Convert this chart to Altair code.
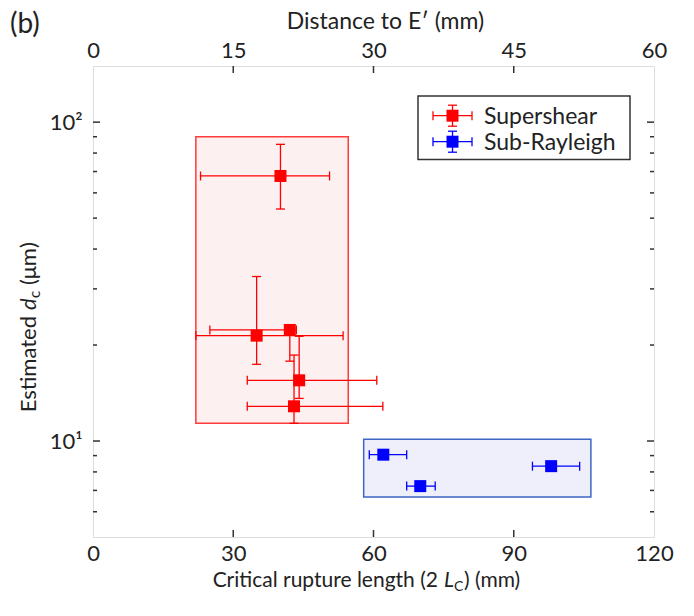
import altair as alt
import pandas as pd

# ---------------- data ----------------
red_x = [40.1, 35.0, 42.1, 44.1, 43.0]
red_y = [67.8, 21.4, 22.3, 15.5, 12.85]
red_xlo = [23.0, 22.0, 25.0, 33.0, 33.0]
red_xhi = [50.6, 53.5, 43.5, 60.7, 62.0]
red_ylo = [53.4, 17.4, 17.8, 13.6, 11.36]
red_yhi = [85.2, 32.8, 23.0, 21.3, 18.6]

blue_x = [62.1, 70.0, 98.0]
blue_y = [9.06, 7.22, 8.34]
blue_xlo = [59.1, 67.1, 94.0]
blue_xhi = [67.1, 73.2, 104.1]

red_box = {"x1": [22.0], "x2": [54.6], "y1": [11.36], "y2": [90.0]}
blue_box = {"x1": [57.9], "x2": [106.5], "y1": [6.67], "y2": [10.12]}

x_ticks = [0, 30, 60, 90, 120]
top_ticks = [0, 15, 30, 45, 60]
y_major = [10, 100]
y_minor = [6, 7, 8, 9, 20, 30, 40, 50, 60, 70, 80, 90]
inner_x_ticks = [30, 60, 90]

W, H = 561, 471
FONT = "Lato"
FS = 22
FRAME = "#333333"
TXT = "#222222"

xs = alt.Scale(domain=[0, 120], nice=False, zero=False)
ys = alt.Scale(type="log", domain=[5, 150], nice=False)

XAX = alt.Axis(values=x_ticks, title=None, ticks=False, domain=False, grid=False,
               labelFlush=False, labelPadding=6, labelFontSize=FS, labelColor=TXT, labelFont=FONT)
YAX = alt.Axis(values=y_major, title=None, ticks=False, domain=False, grid=False,
               labelFlush=False, labelPadding=11,
               labelExpr="datum.value == 10 ? '10¹' : '10²'",
               labelFontSize=FS, labelColor=TXT, labelFont=FONT)

red_df = pd.DataFrame(dict(x=red_x, y=red_y, xlo=red_xlo, xhi=red_xhi, ylo=red_ylo, yhi=red_yhi))
blue_df = pd.DataFrame(dict(x=blue_x, y=blue_y, xlo=blue_xlo, xhi=blue_xhi))


def X(f):
    return alt.X(f, type="quantitative", scale=xs, axis=XAX)


def Y(f):
    return alt.Y(f, type="quantitative", scale=ys, axis=YAX)


# boxes
rbox = alt.Chart(pd.DataFrame(red_box)).mark_rect(fill="#fdf0f0", stroke="#ff3b3b", strokeWidth=1.5).encode(
    x=X("x1"), x2="x2", y=Y("y1"), y2="y2")
bbox = alt.Chart(pd.DataFrame(blue_box)).mark_rect(fill="#efeffb", stroke="#3d66c4", strokeWidth=1.5).encode(
    x=X("x1"), x2="x2", y=Y("y1"), y2="y2")

LW = 1.3
RED = "#ff0000"
BLUE = "#0000ff"


def cap(df, col, orient, xf, yf):
    return alt.Chart(df).mark_tick(color=col, orient=orient, size=9, thickness=LW, opacity=1).encode(
        x=X(xf), y=Y(yf))


r_h = alt.Chart(red_df).mark_rule(color=RED, strokeWidth=LW).encode(x=X("xlo"), x2="xhi", y=Y("y"))
r_v = alt.Chart(red_df).mark_rule(color=RED, strokeWidth=LW).encode(x=X("x"), y=Y("ylo"), y2="yhi")
r_caps = [cap(red_df, RED, "vertical", "xlo", "y"), cap(red_df, RED, "vertical", "xhi", "y"),
          cap(red_df, RED, "horizontal", "x", "ylo"), cap(red_df, RED, "horizontal", "x", "yhi")]
r_pt = alt.Chart(red_df).mark_square(color=RED, size=144, opacity=1).encode(x=X("x"), y=Y("y"))

b_h = alt.Chart(blue_df).mark_rule(color=BLUE, strokeWidth=LW).encode(x=X("xlo"), x2="xhi", y=Y("y"))
b_caps = [cap(blue_df, BLUE, "vertical", "xlo", "y"), cap(blue_df, BLUE, "vertical", "xhi", "y")]
b_pt = alt.Chart(blue_df).mark_square(color=BLUE, size=144, opacity=1).encode(x=X("x"), y=Y("y"))

# inward ticks
xt_df = pd.DataFrame({"v": inner_x_ticks})
tick_bot = alt.Chart(xt_df).mark_rule(color=FRAME, strokeWidth=1.5).encode(
    x=X("v"), y=alt.value(H), y2=alt.value(H - 7))
tick_top = alt.Chart(xt_df).mark_rule(color=FRAME, strokeWidth=1.5).encode(
    x=X("v"), y=alt.value(0), y2=alt.value(7))
ymaj_df = pd.DataFrame({"v": y_major})
ymin_df = pd.DataFrame({"v": y_minor})
tl_maj = alt.Chart(ymaj_df).mark_rule(color=FRAME, strokeWidth=1.5).encode(y=Y("v"), x=alt.value(0), x2=alt.value(7))
tr_maj = alt.Chart(ymaj_df).mark_rule(color=FRAME, strokeWidth=1.5).encode(y=Y("v"), x=alt.value(W), x2=alt.value(W - 7))
tl_min = alt.Chart(ymin_df).mark_rule(color=FRAME, strokeWidth=1.5).encode(y=Y("v"), x=alt.value(0), x2=alt.value(4))
tr_min = alt.Chart(ymin_df).mark_rule(color=FRAME, strokeWidth=1.5).encode(y=Y("v"), x=alt.value(W), x2=alt.value(W - 4))

# legend (manual)
one = pd.DataFrame({"a": [0]})
leg_box = alt.Chart(one).mark_rect(fill="white", stroke=FRAME, strokeWidth=1.5).encode(
    x=alt.value(325), x2=alt.value(537), y=alt.value(30), y2=alt.value(93.5))
leg_parts = [leg_box]
for ly, col, lab in [(49.7, RED, "Supershear"), (75.7, BLUE, "Sub-Rayleigh")]:
    leg_parts.append(alt.Chart(one).mark_rule(color=col, strokeWidth=LW).encode(
        x=alt.value(340), x2=alt.value(379), y=alt.value(ly)))
    leg_parts.append(alt.Chart(one).mark_rule(color=col, strokeWidth=LW).encode(
        x=alt.value(359.5), y=alt.value(ly - 10.5), y2=alt.value(ly + 10.5)))
    for cx in (340, 379):
        leg_parts.append(alt.Chart(one).mark_rule(color=col, strokeWidth=LW).encode(
            x=alt.value(cx), y=alt.value(ly - 4.5), y2=alt.value(ly + 4.5)))
    for cy in (ly - 10.5, ly + 10.5):
        leg_parts.append(alt.Chart(one).mark_rule(color=col, strokeWidth=LW).encode(
            x=alt.value(355), x2=alt.value(364), y=alt.value(cy)))
    leg_parts.append(alt.Chart(one).mark_square(color=col, size=144, opacity=1).encode(
        x=alt.value(359.5), y=alt.value(ly)))
    leg_parts.append(alt.Chart(one).mark_text(text=lab, font=FONT, fontSize=23, align="left",
                                              baseline="middle", color=TXT).encode(
        x=alt.value(391), y=alt.value(ly + 1)))


def txt(s, x, y, size=FS, style="normal", align="left", angle=0, baseline="alphabetic"):
    kw = dict(text=s, font=FONT, fontSize=size, fontStyle=style, align=align,
              baseline=baseline, color=TXT)
    if angle:
        kw["angle"] = angle
    return alt.Chart(one).mark_text(**kw).encode(x=alt.value(x), y=alt.value(y))


# bottom title pieces
QX = 345
QY = 521
bt = [
    txt("Critical rupture length (2", QX, QY, size=21, align="right"),
    txt("L", QX + 6, QY, size=21, style="italic"),
    txt("C", QX + 16, QY + 4, size=14),
    txt(") (mm)", QX + 26, QY, size=21),
]
# y title pieces (rotated)
PX = -57
PY = 250
yt = [
    txt("Estimated", PX, PY, align="right", angle=270),
    txt("d", PX, PY - 6, style="italic", align="left", angle=270),
    txt("c", PX + 4, PY - 18, size=15, align="left", angle=270),
    txt("(μm)", PX, PY - 31, align="left", angle=270),
]
label_b = txt("(b)", -83, -33, size=28)

main = alt.layer(
    rbox, bbox,
    r_h, r_v, *r_caps, b_h, *b_caps,
    r_pt, b_pt,
    tick_bot, tick_top, tl_maj, tr_maj, tl_min, tr_min,
    *leg_parts, *bt, *yt, label_b,
)

top_df = pd.DataFrame({"t": [0, 60]})
top_axis = alt.Chart(top_df).mark_point(opacity=0).encode(
    x=alt.X("t:Q", scale=alt.Scale(domain=[0, 60], nice=False, zero=False),
            axis=alt.Axis(orient="top", values=top_ticks, title="Distance to E′ (mm)", ticks=False,
                          domain=False, grid=False, labelFlush=False, labelPadding=4,
                          labelFontSize=FS, labelColor=TXT, labelFont=FONT,
                          titleFont=FONT, titleFontSize=23, titleFontWeight="normal",
                          titleColor=TXT, titlePadding=6, titleX=292)),
    y=alt.value(0),
)

chart = alt.layer(main, top_axis).resolve_scale(x="independent").properties(
    width=W, height=H,
    autosize=alt.AutoSizeParams(type="none"),
    padding={"left": 93, "top": 66, "right": 40, "bottom": 79},
).configure_view(stroke=FRAME, strokeWidth=1.8).configure(background="white")

chart.save("out.html", embed_options={"renderer": "svg", "actions": False})
